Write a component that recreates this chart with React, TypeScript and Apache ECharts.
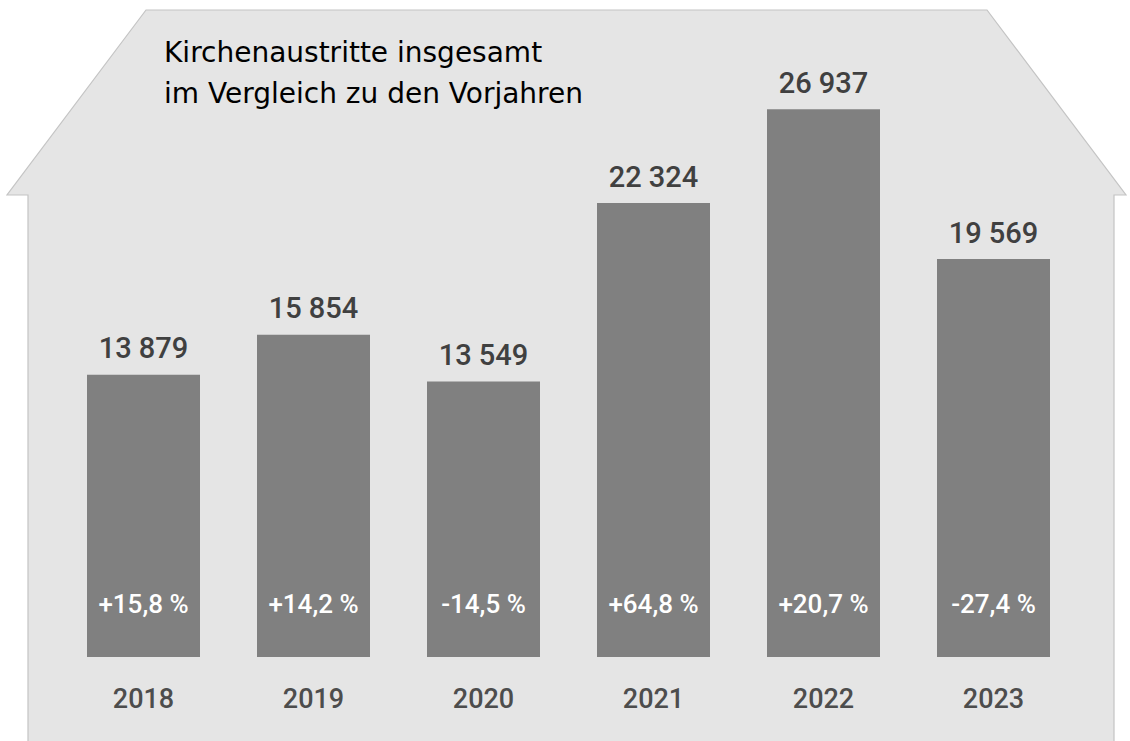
import React, { useEffect, useRef } from "react";
import * as echarts from "echarts";

const years = ["2018", "2019", "2020", "2021", "2022", "2023"];
const exits = [13879, 15854, 13549, 22324, 26937, 19569];
const changes = ["+15,8 %", "+14,2 %", "-14,5 %", "+64,8 %", "+20,7 %", "-27,4 %"];
const titleLines = ["Kirchenaustritte insgesamt", "im Vergleich zu den Vorjahren"];

const FONT = "Roboto, 'DejaVu Sans', sans-serif";
const TITLE_FONT = "'DejaVu Sans', Roboto, sans-serif";

function fmt(v: number): string {
  const s = String(v);
  return s.length > 3 ? s.slice(0, s.length - 3) + " " + s.slice(-3) : s;
}

export default function App() {
  const ref = useRef<HTMLDivElement>(null);
  useEffect(() => {
    if (!ref.current) return;
    const chart = echarts.init(ref.current, undefined, { renderer: "svg" });
    chart.setOption({
      animation: false,
      backgroundColor: "#ffffff",
      graphic: [
        {
          type: "polygon",
          z: -10,
          silent: true,
          shape: {
            points: [
              [28, 745],
              [28, 195],
              [7, 195],
              [146, 10],
              [987, 10],
              [1126, 195],
              [1114, 195],
              [1114, 745],
            ],
          },
          style: { fill: "#e5e5e5", stroke: "#c4c4c4", lineWidth: 1.2 },
        },
        {
          type: "text",
          left: 164,
          top: 32,
          style: {
            text: titleLines.join("\n"),
            font: "500 28px " + TITLE_FONT,
            fill: "#000000",
            lineHeight: 41,
          },
        },
      ],
      grid: { left: 58.5, width: 1020, top: 47, bottom: 84, containLabel: false },
      xAxis: {
        type: "category",
        data: years,
        axisLine: { show: false },
        axisTick: { show: false },
        axisLabel: {
          margin: 28,
          fontFamily: FONT,
          fontSize: 27,
          fontWeight: 500,
          color: "#4d4d4d",
        },
      },
      yAxis: {
        type: "value",
        min: 0,
        max: 30000,
        show: false,
        splitLine: { show: false },
      },
      series: [
        {
          type: "bar",
          data: exits,
          barWidth: 113,
          itemStyle: { color: "#808080" },
          label: {
            show: true,
            position: "top",
            distance: 12,
            formatter: (p: any) => fmt(p.value),
            fontFamily: FONT,
            fontSize: 29,
            fontWeight: 500,
            color: "#404040",
          },
        },
        {
          type: "bar",
          data: exits,
          barWidth: 113,
          barGap: "-100%",
          itemStyle: { color: "rgba(0,0,0,0)" },
          label: {
            show: true,
            position: "insideBottom",
            distance: 40,
            formatter: (p: any) => changes[p.dataIndex],
            fontFamily: FONT,
            fontSize: 26,
            fontWeight: 500,
            color: "#ffffff",
          },
        },
      ],
    });
    return () => chart.dispose();
  }, []);
  return <div ref={ref} style={{ width: 1130, height: 741, position: "absolute", left: 0, top: 0 }} />;
}
